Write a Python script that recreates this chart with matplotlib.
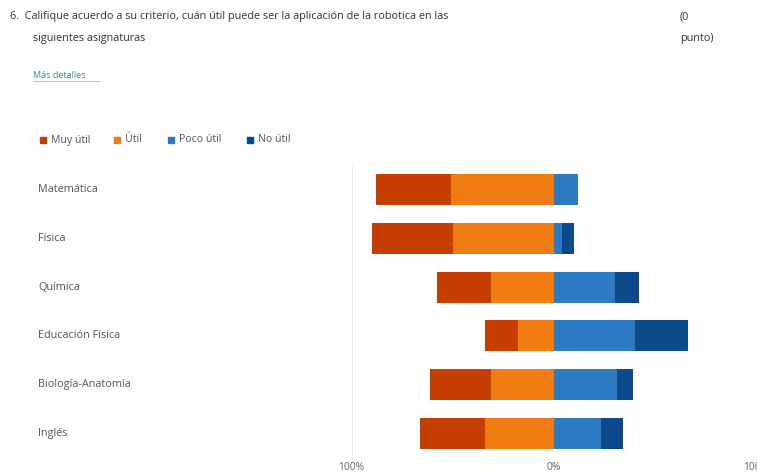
import numpy as np
import matplotlib
matplotlib.use("Agg")
import matplotlib.pyplot as plt
from matplotlib.patches import Rectangle
from matplotlib.lines import Line2D
from matplotlib.transforms import blended_transform_factory

plt.rcParams['font.family'] = ['Open Sans', 'DejaVu Sans']

# Data (percent of answers)
categories = ['Matemática', 'Física', 'Química', 'Educación Física',
              'Biología-Anatomía', 'Inglés']
muy_util = np.array([37, 40, 27, 16, 30, 32])
util = np.array([51, 50, 31, 18, 31, 34])
poco_util = np.array([12, 4, 30, 40, 31, 23])
no_util = np.array([0, 6, 12, 26, 8, 11])
series_names = ['Muy útil', 'Útil', 'Poco útil', 'No útil']
colors = ['#C63D02', '#F07C12', '#2C7BC2', '#0C4A8C']
tick_pos = [-100, 0, 100]
tick_labels = ['100%', '0%', '100%']

W, H = 757, 475
fig = plt.figure(figsize=(W / 100, H / 100), dpi=100)

# header texts
fig.text(10 / W, 1 - 17 / H,
         '6.  Califique acuerdo a su criterio, cuán útil puede ser la aplicación de la robotica en las',
         fontsize=7.8, color='#333333', va='center', ha='left')
fig.text(33 / W, 1 - 39 / H, 'siguientes asignaturas',
         fontsize=7.8, color='#333333', va='center', ha='left')
fig.text(680 / W, 1 - 17 / H, '(0', fontsize=7.8, color='#333333', va='center')
fig.text(680 / W, 1 - 39 / H, 'punto)', fontsize=7.8, color='#333333', va='center')
fig.text(33 / W, 1 - 76 / H, 'Más detalles', fontsize=6.5,
         color='#2F8F8A', va='center', ha='left')
fig.add_artist(Line2D([33 / W, 99 / W], [1 - 81 / H, 1 - 81 / H],
                      transform=fig.transFigure, color='#8FC4C0', linewidth=0.6))

# legend
leg_x = [40, 114, 168, 247]
for x, name, c in zip(leg_x, series_names, colors):
    fig.add_artist(Rectangle((x / W, 1 - 143 / H), 6 / W, 6 / H,
                             transform=fig.transFigure, color=c))
    fig.text((x + 11) / W, 1 - 140 / H, name, fontsize=7.6,
             color='#555555', va='center', ha='left')

ax = fig.add_axes([351.5 / W, 1 - 457.5 / H, 405 / W, 292 / H])
y = np.arange(len(categories))
h = 0.64
ax.barh(y, muy_util, left=-(muy_util + util), height=h, color=colors[0])
ax.barh(y, util, left=-util, height=h, color=colors[1])
ax.barh(y, poco_util, left=0, height=h, color=colors[2])
ax.barh(y, no_util, left=poco_util, height=h, color=colors[3])

ax.set_xlim(-100, 100)
ax.set_ylim(len(categories) - 0.5, -0.5)
ax.set_xticks(tick_pos)
ax.set_xticklabels(tick_labels, fontsize=7.4, color='#666666')
ax.tick_params(axis='x', length=0, pad=3)
ax.set_yticks([])
for s in ['top', 'right', 'bottom']:
    ax.spines[s].set_visible(False)
ax.spines['left'].set_color('#eeeeee')
ax.spines['left'].set_linewidth(0.8)

tr = blended_transform_factory(fig.transFigure, ax.transData)
for yi, cat in zip(y, categories):
    ax.text(38 / W, yi, cat, transform=tr, fontsize=7.8, color='#555555',
            va='center', ha='left')

fig.savefig('out.png', dpi=100)
